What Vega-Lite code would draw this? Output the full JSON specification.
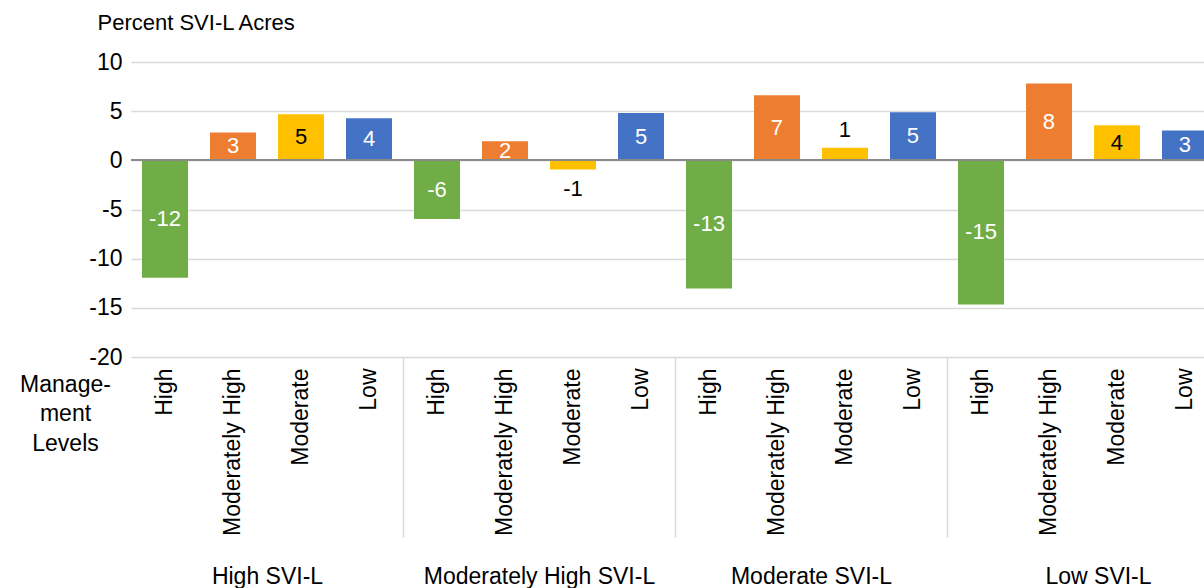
{
  "$schema": "https://vega.github.io/schema/vega-lite/v6.json",
  "width": 1073,
  "height": 295,
  "autosize": {"type": "none"},
  "padding": {"left": 131, "top": 62, "right": 0, "bottom": 231},
  "background": "white",
  "config": {
    "view": {"stroke": null},
    "font": "Liberation Sans",
    "axis": {"labelFont": "Liberation Sans", "titleFont": "Liberation Sans", "labelColor": "#000000", "titleColor": "#000000"}
  },
  "data": {
    "values": [
      {"group": "High SVI-L", "level": "High", "value": -11.95},
      {"group": "High SVI-L", "level": "Moderately High", "value": 2.83},
      {"group": "High SVI-L", "level": "Moderate", "value": 4.68},
      {"group": "High SVI-L", "level": "Low", "value": 4.28},
      {"group": "Moderately High SVI-L", "level": "High", "value": -5.97},
      {"group": "Moderately High SVI-L", "level": "Moderately High", "value": 1.95},
      {"group": "Moderately High SVI-L", "level": "Moderate", "value": -0.92},
      {"group": "Moderately High SVI-L", "level": "Low", "value": 4.81},
      {"group": "Moderate SVI-L", "level": "High", "value": -13.03},
      {"group": "Moderate SVI-L", "level": "Moderately High", "value": 6.63},
      {"group": "Moderate SVI-L", "level": "Moderate", "value": 1.29},
      {"group": "Moderate SVI-L", "level": "Low", "value": 4.9},
      {"group": "Low SVI-L", "level": "High", "value": -14.66},
      {"group": "Low SVI-L", "level": "Moderately High", "value": 7.82},
      {"group": "Low SVI-L", "level": "Moderate", "value": 3.57},
      {"group": "Low SVI-L", "level": "Low", "value": 3.03}
    ]
  },
  "transform": [
    {"calculate": "datum.group + '|' + datum.level", "as": "key"},
    {"calculate": "'' + round(datum.value)", "as": "label"},
    {"calculate": "abs(datum.value) < 1.5 ? (datum.value < 0 ? datum.value - 2.0 : datum.value + 1.75) : datum.value / 2", "as": "pos"}
  ],
  "layer": [
    {
      "layer": [
        {
          "mark": {"type": "bar", "clip": true},
          "encoding": {
            "x": {
              "field": "key", "type": "nominal", "sort": null,
              "scale": {"type": "band", "paddingInner": 0.3235, "paddingOuter": 0.1618, "range": [0, 1088]},
              "axis": {
                "orient": "bottom",
                "labelAngle": -90, "labelPadding": 11, "labelFontSize": 23,
                "labelExpr": "split(datum.label, '|')[1]",
                "ticks": false, "domain": false, "grid": false,
                "title": ["Manage-", "ment", "Levels"],
                "titleAngle": 0, "titleAlign": "center", "titleBaseline": "top",
                "titleX": -66, "titleY": 16, "titleLineHeight": 29.5,
                "titleFontSize": 23, "titleFontWeight": "normal"
              }
            },
            "y": {
              "field": "value", "type": "quantitative",
              "scale": {"domain": [-20, 10], "nice": false},
              "axis": {
                "values": [-20, -15, -10, -5, 0, 5, 10],
                "labelExpr": "'' + datum.value",
                "labelFontSize": 23, "labelPadding": 9,
                "ticks": false, "domain": false,
                "grid": true, "gridColor": "#d9d9d9", "gridWidth": 1.5,
                "title": "Percent SVI-L Acres",
                "titleAngle": 0, "titleAlign": "left", "titleBaseline": "middle",
                "titleX": -34, "titleY": -40, "titleFontSize": 22, "titleFontWeight": "normal"
              }
            },
            "color": {
              "field": "level", "type": "nominal",
              "scale": {"domain": ["High", "Moderately High", "Moderate", "Low"], "range": ["#70AD47", "#ED7D31", "#FFC000", "#4472C4"]},
              "legend": null
            }
          }
        },
        {
          "mark": {"type": "rule", "color": "#8a8a8a", "strokeWidth": 1.5},
          "encoding": {"y": {"datum": 0}}
        },
        {
          "mark": {"type": "text", "fontSize": 22, "baseline": "middle", "align": "center", "clip": true},
          "encoding": {
            "x": {"field": "key", "type": "nominal", "sort": null},
            "y": {"field": "pos", "type": "quantitative"},
            "text": {"field": "label"},
            "color": {
              "condition": {"test": "datum.level === 'Moderate' || abs(datum.value) < 1.5", "value": "#000000"},
              "value": "#ffffff"
            }
          }
        }
      ]
    },
    {
      "mark": {"type": "point", "opacity": 0},
      "encoding": {
        "x": {
          "field": "group", "type": "nominal", "sort": null,
          "scale": {"type": "band", "paddingInner": 0, "paddingOuter": 0, "range": [0, 1088]},
          "axis": {
            "orient": "bottom",
            "domain": false, "grid": false,
            "ticks": true, "tickSize": 180,
            "tickWidth": 1.5, "tickColor": "#d9d9d9",
            "tickOffset": 136,
            "labelOffset": {"condition": {"test": "datum.value === 'Low SVI-L'", "value": -121}, "value": -136},
            "labelAngle": 0, "labelPadding": 28, "labelFontSize": 23, "labelLimit": 0,
            "title": null
          }
        },
        "y": {"datum": 0}
      }
    }
  ],
  "resolve": {"scale": {"x": "independent"}, "axis": {"x": "independent"}}
}
